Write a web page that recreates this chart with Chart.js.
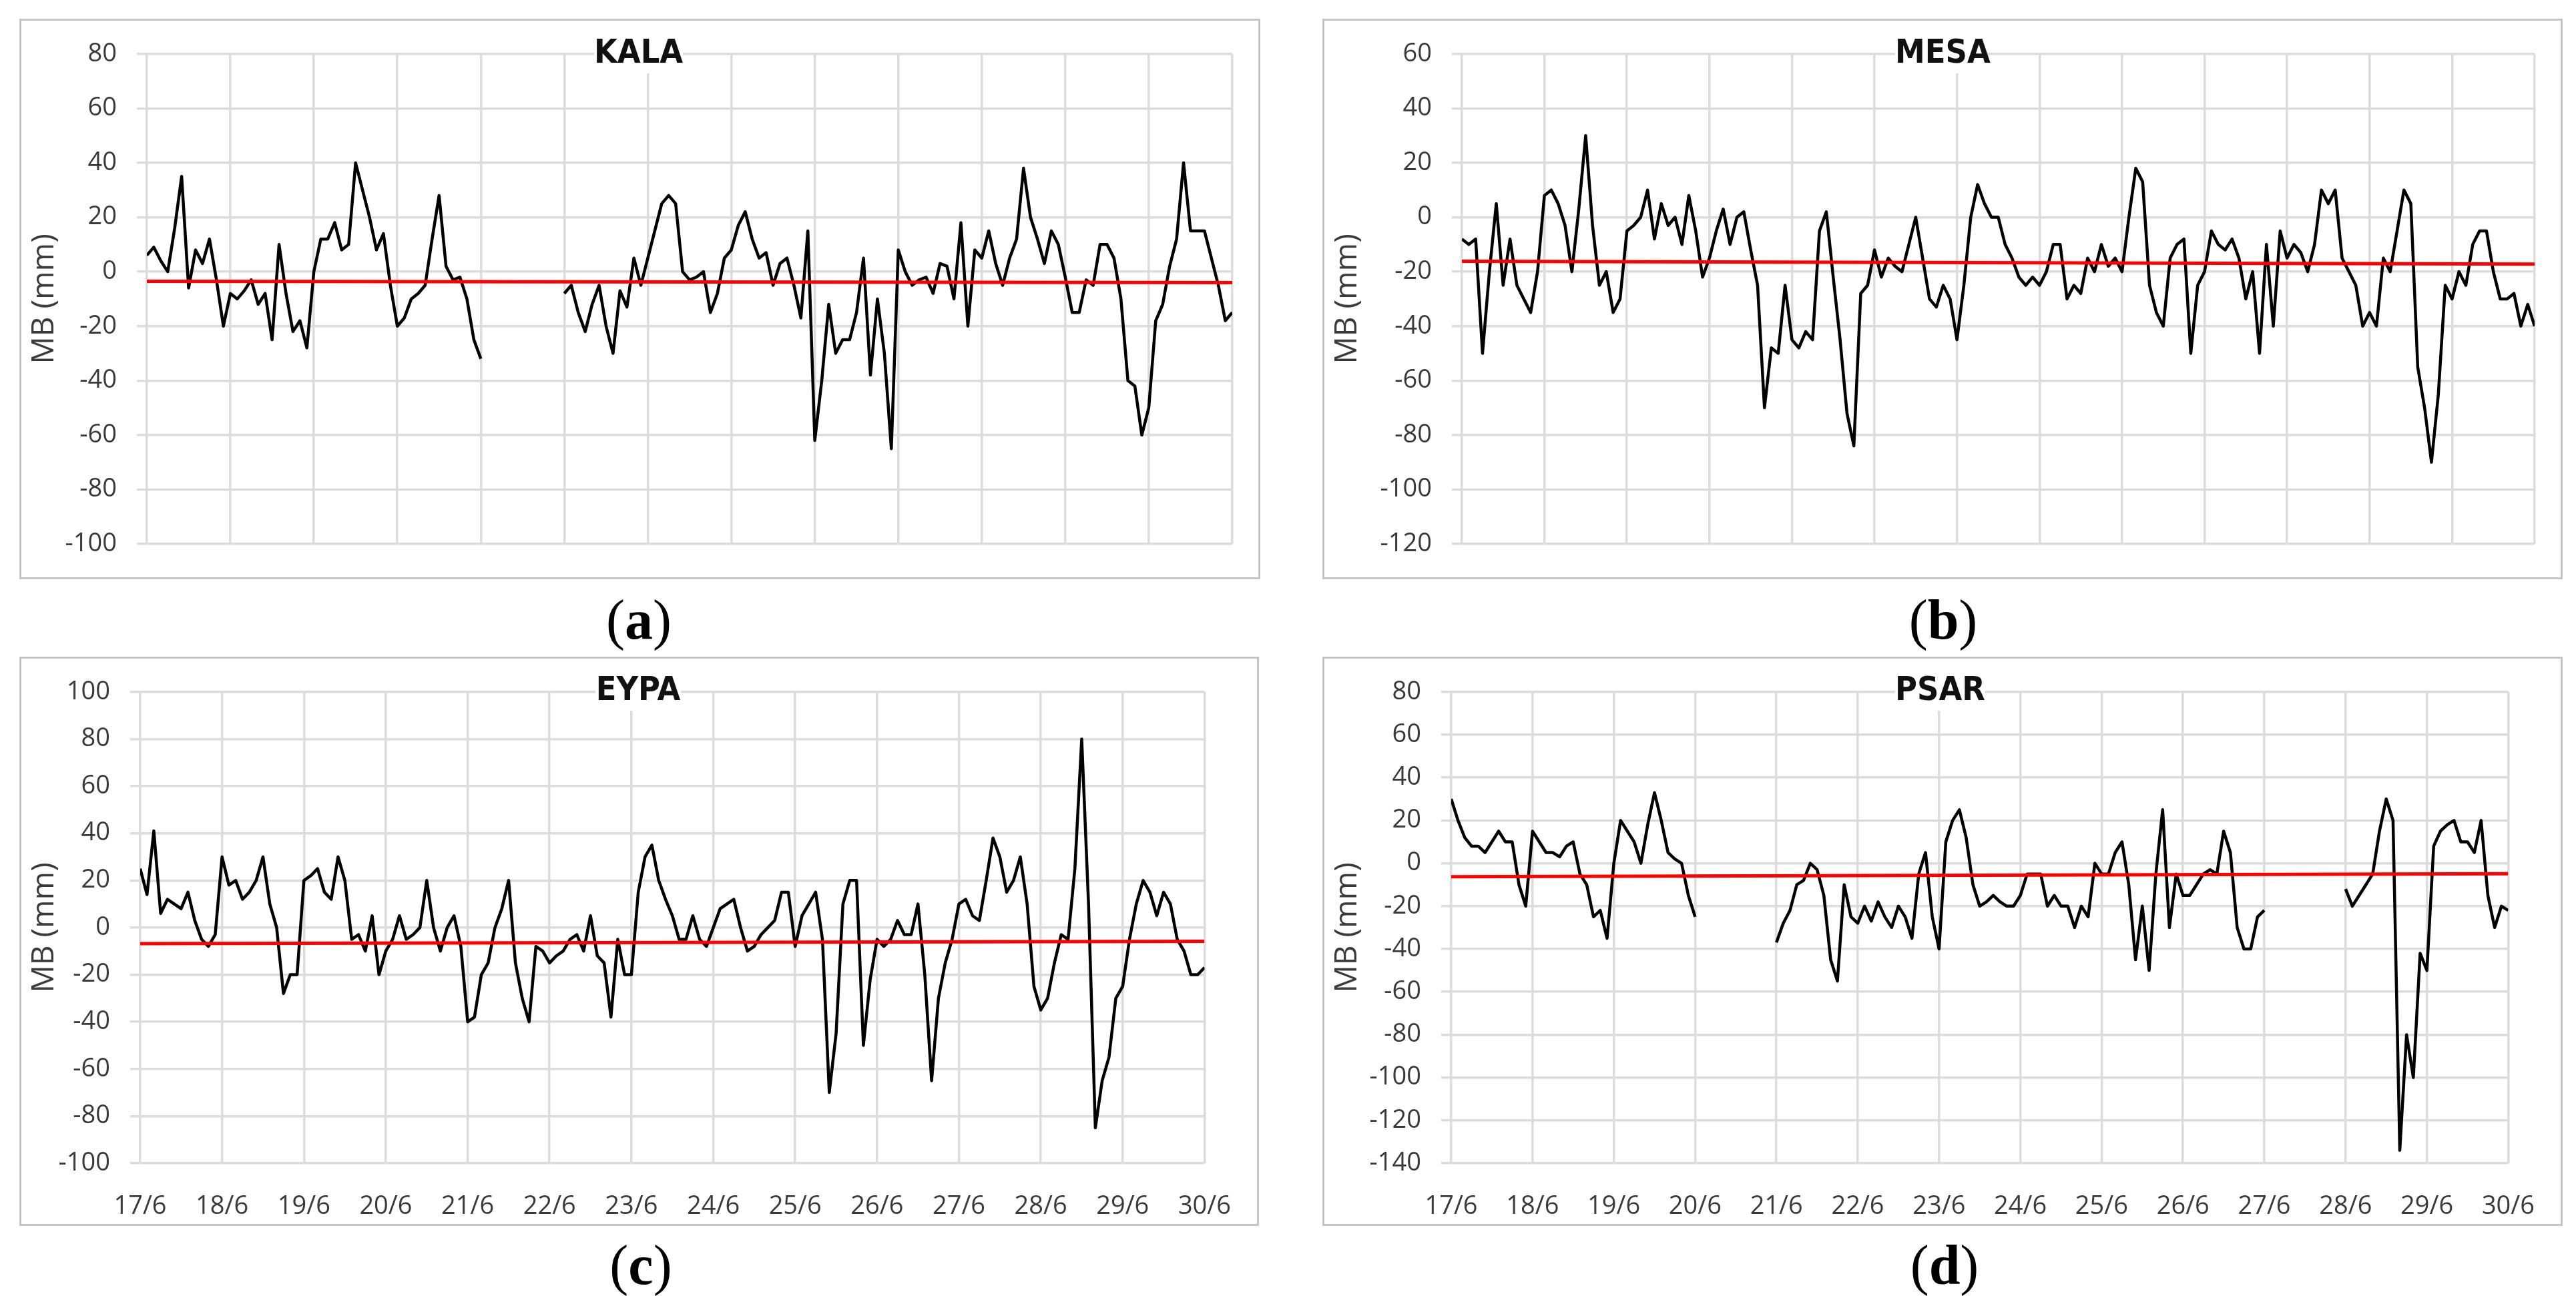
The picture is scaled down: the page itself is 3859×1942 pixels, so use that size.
<!DOCTYPE html>
<html>
<head>
<meta charset="utf-8">
<script src="https://cdn.jsdelivr.net/npm/chart.js@4.4.0/dist/chart.umd.min.js"></script>
<style>
  html, body { margin: 0; padding: 0; background: #fff; }
  #page { position: relative; width: 3859px; height: 1942px; overflow: hidden; background: #fff; }
  .panel { position: absolute; box-sizing: border-box; border: 3px solid #c4c4c4; }
  .panel canvas { position: absolute; left: -3px; top: -3px; }
  .stn { position: absolute; background: #fff; height: 65px; line-height: 65px; text-align: center;
         font-family: "Liberation Sans Narrow", "DejaVu Sans Condensed", "Liberation Sans", sans-serif;
         font-weight: bold; font-size: 50px; color: #111; }
  .tag { position: absolute; width: 200px; height: 84px; line-height: 84px; text-align: center;
         font-family: "Liberation Serif", "DejaVu Serif", serif; font-size: 84px; color: #000; }
</style>
</head>
<body>
<div id="page">
  <div class="panel" style="left:29px;top:28px;width:1859px;height:840px"><canvas id="chartA" width="1859" height="840"></canvas></div>
  <div class="panel" style="left:1981px;top:28px;width:1858px;height:840px"><canvas id="chartB" width="1858" height="840"></canvas></div>
  <div class="panel" style="left:29px;top:984px;width:1857px;height:853px"><canvas id="chartC" width="1857" height="853"></canvas></div>
  <div class="panel" style="left:1981px;top:984px;width:1858px;height:853px"><canvas id="chartD" width="1858" height="853"></canvas></div>

  <div class="stn" style="left:890px;top:45px;width:133px">KALA</div>
  <div class="stn" style="left:2839px;top:45px;width:138px">MESA</div>
  <div class="stn" style="left:892px;top:1000px;width:128px">EYPA</div>
  <div class="stn" style="left:2839px;top:1000px;width:135px">PSAR</div>

  <div class="tag" style="left:857px;top:887px">(<b>a</b>)</div>
  <div class="tag" style="left:2811px;top:887px">(<b>b</b>)</div>
  <div class="tag" style="left:860px;top:1854px">(<b>c</b>)</div>
  <div class="tag" style="left:2813px;top:1854px">(<b>d</b>)</div>
</div>

<script>
// ========================
// DATOS (MB en mm, cada 2 horas desde 17/6 00:00)
// ========================
const DAY_LABELS = ["17/6","18/6","19/6","20/6","21/6","22/6","23/6","24/6","25/6","26/6","27/6","28/6","29/6","30/6"];
const HOURS = Array.from({ length: 157 }, (_, i) => i * 2);

const kalaMB = [
  6, 9, 4, 0, 16, 35, -6, 8, 3, 12, -3, -20,
  -8, -10, -7, -3, -12, -8, -25, 10, -8, -22, -18, -28,
  0, 12, 12, 18, 8, 10, 40, 30, 20, 8, 14, -5,
  -20, -17, -10, -8, -5, 12, 28, 2, -3, -2, -10, -25,
  -32, null, null, null, null, null, null, null, null, null, null, null,
  -8, -5, -15, -22, -12, -5, -20, -30, -7, -13, 5, -5,
  5, 15, 25, 28, 25, 0, -3, -2, 0, -15, -8, 5,
  8, 17, 22, 12, 5, 7, -5, 3, 5, -5, -17, 15,
  -62, -40, -12, -30, -25, -25, -15, 5, -38, -10, -30, -65,
  8, 0, -5, -3, -2, -8, 3, 2, -10, 18, -20, 8,
  5, 15, 3, -5, 5, 12, 38, 20, 12, 3, 15, 10,
  -2, -15, -15, -3, -5, 10, 10, 5, -10, -40, -42, -60,
  -50, -18, -12, 2, 12, 40, 15, 15, 15, 5, -5, -18,
  -15
];

const mesaMB = [
  -8, -10, -8, -50, -20, 5, -25, -8, -25, -30, -35, -20,
  8, 10, 5, -3, -20, 3, 30, -3, -25, -20, -35, -30,
  -5, -3, 0, 10, -8, 5, -3, 0, -10, 8, -5, -22,
  -15, -5, 3, -10, 0, 2, -12, -25, -70, -48, -50, -25,
  -45, -48, -42, -45, -5, 2, -22, -45, -72, -84, -28, -25,
  -12, -22, -15, -18, -20, -10, 0, -15, -30, -33, -25, -30,
  -45, -25, 0, 12, 5, 0, 0, -10, -15, -22, -25, -22,
  -25, -20, -10, -10, -30, -25, -28, -15, -20, -10, -18, -15,
  -20, 0, 18, 13, -25, -35, -40, -15, -10, -8, -50, -25,
  -20, -5, -10, -12, -8, -15, -30, -20, -50, -10, -40, -5,
  -15, -10, -13, -20, -10, 10, 5, 10, -15, -20, -25, -40,
  -35, -40, -15, -20, -5, 10, 5, -55, -70, -90, -65, -25,
  -30, -20, -25, -10, -5, -5, -20, -30, -30, -28, -40, -32,
  -40
];

const eypaMB = [
  25, 14, 41, 6, 12, 10, 8, 15, 3, -5, -8, -3,
  30, 18, 20, 12, 15, 20, 30, 10, 0, -28, -20, -20,
  20, 22, 25, 15, 12, 30, 20, -5, -3, -10, 5, -20,
  -10, -5, 5, -5, -3, 0, 20, 0, -10, 0, 5, -8,
  -40, -38, -20, -15, 0, 8, 20, -15, -30, -40, -8, -10,
  -15, -12, -10, -5, -3, -10, 5, -12, -15, -38, -5, -20,
  -20, 15, 30, 35, 20, 12, 5, -5, -5, 5, -5, -8,
  0, 8, 10, 12, 0, -10, -8, -3, 0, 3, 15, 15,
  -8, 5, 10, 15, -5, -70, -45, 10, 20, 20, -50, -22,
  -5, -8, -5, 3, -3, -3, 10, -20, -65, -30, -15, -5,
  10, 12, 5, 3, 20, 38, 30, 15, 20, 30, 10, -25,
  -35, -30, -15, -3, -5, 25, 80, 10, -85, -65, -55, -30,
  -25, -5, 10, 20, 15, 5, 15, 10, -5, -10, -20, -20,
  -17
];

const psarMB = [
  30, 20, 12, 8, 8, 5, 10, 15, 10, 10, -10, -20,
  15, 10, 5, 5, 3, 8, 10, -5, -10, -25, -22, -35,
  0, 20, 15, 10, 0, 18, 33, 20, 5, 2, 0, -15,
  -25, null, null, null, null, null, null, null, null, null, null, null,
  -37, -28, -22, -10, -8, 0, -3, -15, -45, -55, -10, -25,
  -28, -20, -27, -18, -25, -30, -20, -25, -35, -5, 5, -25,
  -40, 10, 20, 25, 12, -10, -20, -18, -15, -18, -20, -20,
  -15, -5, -5, -5, -20, -15, -20, -20, -30, -20, -25, 0,
  -5, -5, 5, 10, -10, -45, -20, -50, -5, 25, -30, -5,
  -15, -15, -10, -5, -3, -5, 15, 5, -30, -40, -40, -25,
  -22, null, null, null, null, null, null, null, null, null, null, null,
  -12, -20, -15, -10, -5, 15, 30, 20, -134, -80, -100, -42,
  -50, 8, 15, 18, 20, 10, 10, 5, 20, -15, -30, -20,
  -22
];

// tendencia lineal (inicio 17/6, fin 30/6)
const kalaTrend = [-3.5, -4.0];
const mesaTrend = [-16.2, -17.2];
const eypaTrend = [-6.8, -5.8];
const psarTrend = [-6.3, -4.9];

// ========================
// ESTILO
// ========================
const GRID = "#dcdcdc";
const TXT = "#3a3a3a";
const FONT = "'Open Sans', 'Liberation Sans', sans-serif";

function crearGrafico(id, valores, tendencia, yMin, yMax, conFechas, m) {
  const ctx = document.getElementById(id).getContext("2d");
  const xFin = HOURS[HOURS.length - 1];
  return new Chart(ctx, {
    type: "line",
    data: {
      labels: HOURS,
      datasets: [
        {
          label: "Tendencia",
          data: [{ x: 0, y: tendencia[0] }, { x: xFin, y: tendencia[1] }],
          borderColor: "#ff0000",
          borderWidth: 5,
          pointRadius: 0,
          order: 0
        },
        {
          label: "MB",
          data: valores,
          borderColor: "#000000",
          borderWidth: 4.5,
          borderJoinStyle: "round",
          pointRadius: 0,
          tension: 0,
          spanGaps: false,
          order: 1
        }
      ]
    },
    options: {
      responsive: false,
      animation: false,
      devicePixelRatio: 1,
      layout: { padding: { left: 0, right: m.right, top: m.top, bottom: 0 } },
      plugins: { legend: { display: false }, tooltip: { enabled: false } },
      scales: {
        x: {
          type: "linear",
          min: 0,
          max: xFin,
          border: { display: false },
          grid: { color: GRID, lineWidth: 3.5, drawTicks: false },
          ticks: {
            display: conFechas,
            stepSize: 24,
            autoSkip: false,
            maxRotation: 0,
            padding: 42,
            color: TXT,
            font: { family: FONT, size: 38 },
            callback: (v) => DAY_LABELS[Math.round(v / 24)]
          },
          afterFit: (s) => { s.height = m.bottom; }
        },
        y: {
          min: yMin,
          max: yMax,
          border: { display: false },
          grid: { color: GRID, lineWidth: 3.5, tickLength: 15 },
          ticks: { stepSize: 20, padding: 30, color: TXT, font: { family: FONT, size: 38 } },
          title: {
            display: true,
            text: "MB (mm)",
            color: TXT,
            font: { family: FONT, size: 46 },
            padding: { top: 10, bottom: 0 }
          },
          afterFit: (s) => { s.width = m.left; }
        }
      }
    }
  });
}

// ========================
// INICIO
// ========================
crearGrafico("chartA", kalaMB, kalaTrend, -100, 80, false, { left: 191, right: 42, top: 28, bottom: 53 });
crearGrafico("chartB", mesaMB, mesaTrend, -120, 60, false, { left: 209, right: 42, top: 28, bottom: 53 });
crearGrafico("chartC", eypaMB, eypaTrend, -100, 100, true, { left: 181, right: 56, top: 26, bottom: 94 });
crearGrafico("chartD", psarMB, psarTrend, -140, 80, true, { left: 193, right: 57, top: 26, bottom: 94 });
</script>
</body>
</html>
